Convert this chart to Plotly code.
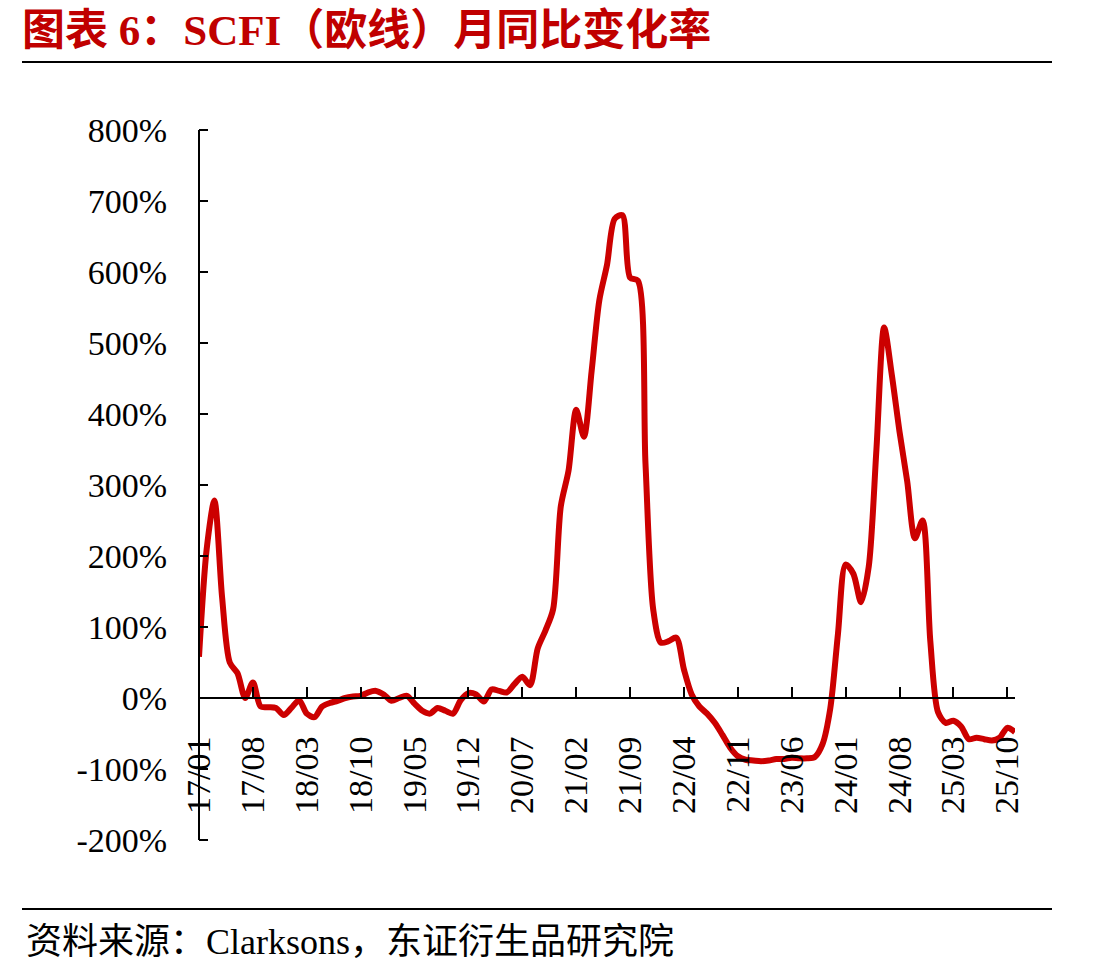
import plotly.graph_objects as go

# Monthly categories 2017/01 .. 2025/11
months = [f"{y % 100:02d}/{m:02d}" for y in range(2017, 2026) for m in range(1, 13)][:107]

# SCFI (Europe) YoY change, %
yoy_pct = [
    58, 210, 278, 142, 50, 35, 0, 22, -12, -13,
    -14, -24, -14, -3, -22, -27, -12, -7, -4, 0,
    2, 3, 8, 10, 5, -4, 0, 3, -8, -18,
    -22, -14, -18, -22, -3, 7, 5, -5, 12, 10,
    8, 20, 30, 18, 70, 95, 125, 270, 320, 406,
    368, 460, 560, 610, 675, 680, 592, 588, 330, 125,
    78, 80, 85, 40, 5, -12, -22, -35, -52, -70,
    -82, -87, -88, -89, -88, -86, -86, -84, -85, -85,
    -83, -65, -15, 90, 188, 175, 135, 185, 350, 522,
    455, 375, 305, 225, 250, 80, -20, -35, -32, -40,
    -58, -56, -58, -60, -56, -42, -48,
]

tick_labels = ["17/01", "17/08", "18/03", "18/10", "19/05", "19/12", "20/07", "21/02",
               "21/09", "22/04", "22/11", "23/06", "24/01", "24/08", "25/03", "25/10"]
y_ticks = [-200, -100, 0, 100, 200, 300, 400, 500, 600, 700, 800]
y_tick_text = ["-200%", "-100%", "0%", "100%", "200%", "300%", "400%", "500%", "600%", "700%", "800%"]

title_text = "图表 6：SCFI（欧线）月同比变化率"
source_text = "资料来源：Clarksons，东证衍生品研究院"

W, H = 1097, 974
L, R, T, B = 199, 1015, 130, 840

def px(x):
    return (x - L) / (R - L)

def py(y):
    return (B - y) / (B - T)

fig = go.Figure()
fig.add_trace(go.Scatter(
    x=list(range(len(yoy_pct))), y=yoy_pct, mode="lines",
    line=dict(color="#CC0000", width=6, shape="spline", smoothing=0.8),
    hoverinfo="skip", showlegend=False,
))
# invisible trace to host the tick-mark axis
fig.add_trace(go.Scatter(
    x=[0], y=[0], yaxis="y2", mode="markers", marker=dict(opacity=0),
    hoverinfo="skip", showlegend=False,
))

tick_pos = [months.index(t) for t in tick_labels]

fig.update_layout(
    width=W, height=H,
    margin=dict(l=L, r=W - R, t=T, b=H - B, pad=0),
    paper_bgcolor="white", plot_bgcolor="white",
    font=dict(family="Liberation Serif, Noto Sans CJK SC", color="black"),
    xaxis=dict(
        range=[0, len(yoy_pct) - 1], tickmode="array", tickvals=tick_pos, ticktext=tick_labels,
        showgrid=False, zeroline=False, showline=True, linecolor="black", linewidth=2,
        ticks="inside", ticklen=10, tickwidth=2, tickcolor="black",
        tickangle=-90, tickfont=dict(family="Liberation Serif", size=34, color="black"),
        anchor="free", position=0.2, ticklabelstandoff=24,
    ),
    yaxis=dict(
        range=[-200, 800], tickmode="array", tickvals=y_ticks, ticktext=y_tick_text,
        showgrid=False, zeroline=False, showline=True, linecolor="black", linewidth=2,
        ticks="", tickfont=dict(family="Liberation Serif", size=34, color="black"),
        anchor="free", position=0, ticklabelstandoff=24,
    ),
    yaxis2=dict(
        range=[-200, 800], tickmode="array", tickvals=y_ticks, overlaying="y", side="left",
        anchor="free", position=px(L + 9), showticklabels=False, showgrid=False,
        zeroline=False, showline=False,
        ticks="outside", ticklen=9, tickwidth=2, tickcolor="black",
    ),
    shapes=[
        dict(type="line", xref="paper", yref="paper", x0=px(22), x1=px(1052), y0=py(62), y1=py(62),
             line=dict(color="black", width=2)),
        dict(type="line", xref="paper", yref="paper", x0=px(22), x1=px(1052), y0=py(909), y1=py(909),
             line=dict(color="black", width=2)),
    ],
    annotations=[
        dict(text=f"<b>{title_text}</b>", xref="paper", yref="paper", x=px(20), y=py(31),
             xanchor="left", yanchor="middle", showarrow=False,
             font=dict(family="Liberation Serif, Noto Sans CJK SC", size=43, color="#C00000")),
        dict(text=source_text, xref="paper", yref="paper", x=px(24), y=py(942),
             xanchor="left", yanchor="middle", showarrow=False,
             font=dict(family="Liberation Serif, Noto Sans CJK SC", size=36, color="black")),
    ],
)

fig.write_html("out.html")
